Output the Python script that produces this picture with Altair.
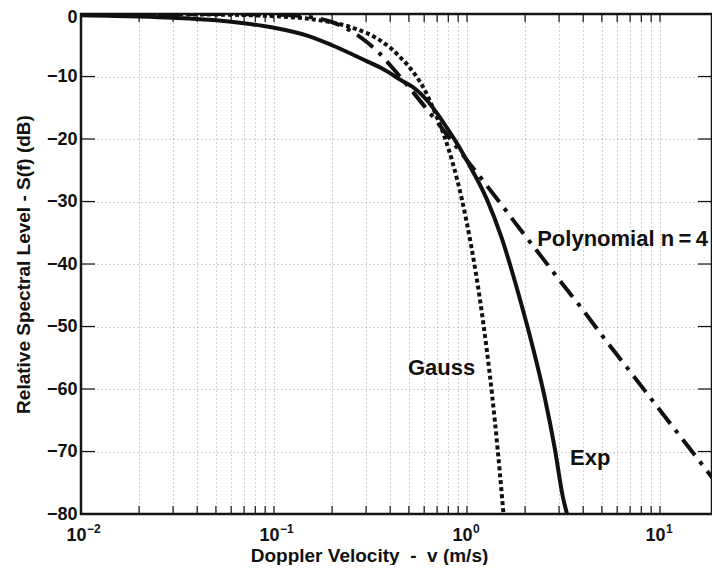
import altair as alt
import pandas as pd

# ---- data ----
exp_v = [0.01, 0.02, 0.03, 0.05, 0.075, 0.1, 0.15, 0.2, 0.3, 0.367, 0.45, 0.55, 0.62, 0.7, 0.79,
         0.9, 1.0, 1.27, 1.5, 1.88, 2.2, 2.53, 2.85, 3.14, 3.30]
exp_db = [-0.2, -0.4, -0.6, -1.0, -1.6, -2.2, -3.5, -5.0, -7.5, -8.8, -10.5, -12.2, -13.8, -15.9, -18.3,
          -21.0, -23.5, -29.7, -35.5, -45.6, -53.5, -61.4, -69.5, -77.3, -80.0]

gauss_v = [0.01, 0.05, 0.1, 0.15, 0.2, 0.25, 0.3, 0.35, 0.4, 0.45, 0.5, 0.55, 0.6, 0.67, 0.77,
           0.85, 0.94, 1.05, 1.17, 1.26, 1.35, 1.44, 1.52, 1.545]
gauss_db = [0.0, -0.1, -0.35, -0.75, -1.35, -2.1, -3.0, -4.1, -5.4, -6.9, -8.4, -10.1, -12.0, -15.2, -19.9,
            -24.2, -29.6, -37.0, -45.9, -53.2, -61.0, -69.5, -77.4, -80.0]

poly_v = [0.01, 0.05, 0.1, 0.15, 0.2, 0.25, 0.3, 0.35, 0.4, 0.5, 0.6, 0.7, 0.8, 1.0, 1.27,
          1.5, 1.88, 2.47, 3.0, 4.0, 5.0, 7.0, 10.0, 14.0, 20.0]
poly_db = [0.0, -0.01, -0.1, -0.45, -1.3, -2.7, -4.4, -6.2, -8.2, -11.7, -14.7, -17.3, -19.6, -23.4, -27.5,
           -30.4, -34.4, -39.1, -42.5, -47.4, -51.4, -57.2, -63.4, -69.2, -75.4]

x_grid = [0.01, 0.02, 0.03, 0.04, 0.05, 0.06, 0.07, 0.08, 0.09,
          0.1, 0.2, 0.3, 0.4, 0.5, 0.6, 0.7, 0.8, 0.9,
          1, 2, 3, 4, 5, 6, 7, 8, 9, 10]
x_decades = [0.01, 0.1, 1, 10]
x_exponents = ["\u22122", "\u22121", "0", "1"]
y_ticks = [-80, -70, -60, -50, -40, -30, -20, -10, 0]
y_inner = [-70, -60, -50, -40, -30, -20, -10]

labels_text = ["Polynomial n\u2009=\u20094", "Gauss", "Exp"]
labels_x = [2.31, 0.494, 3.42]
labels_y = [-37.1, -57.8, -72.2]

W, H = 631, 500
FONT = "Liberation Sans"

def frame(v, d):
    return pd.DataFrame({"x": v, "y": d})

x_enc = alt.X("x:Q",
              scale=alt.Scale(type="log", domain=[0.01, 18.6], nice=False),
              axis=alt.Axis(values=x_grid, grid=True, ticks=False, tickSize=0, domain=False,
                            labelExpr="indexof([0.01,0.1,1,10], datum.value) >= 0 ? '10' : ''",
                            labelOverlap=False, labelFlush=False,
                            labelBaseline="alphabetic", labelPadding=26, labelOffset=-5,
                            title="Doppler Velocity\u00a0 -\u00a0 v (m/s)",
                            titleX=288, titleY=47, titleBaseline="alphabetic", titleAlign="center"))
y_enc = alt.Y("y:Q",
              scale=alt.Scale(domain=[-80, 0], nice=False),
              axis=alt.Axis(values=y_ticks, grid=True, ticks=False, tickSize=0, domain=False,
                            labelPadding=4, labelFlush=False,
                            labelOffset={"condition": {"test": "datum.value == 0", "value": 3},
                                         "value": 0},
                            title="Relative Spectral Level - S(f) (dB)",
                            titleX=-58, titleY=250, titleAngle=270,
                            titleAlign="center", titleBaseline="middle"))

line_col = "#111111"
exp_line = alt.Chart(frame(exp_v, exp_db)).mark_line(
    color=line_col, strokeWidth=4, clip=True, interpolate="monotone").encode(x=x_enc, y=y_enc)
gauss_line = alt.Chart(frame(gauss_v, gauss_db)).mark_line(
    color=line_col, strokeWidth=4, strokeDash=[4, 3], strokeCap="butt", clip=True,
    interpolate="monotone").encode(x=x_enc, y=y_enc)
poly_line = alt.Chart(frame(poly_v, poly_db)).mark_line(
    color=line_col, strokeWidth=4, strokeDash=[20, 8, 4, 8], strokeCap="butt", clip=True,
    interpolate="monotone").encode(x=x_enc, y=y_enc)

ann = alt.Chart(pd.DataFrame({"x": labels_x, "y": labels_y, "t": labels_text})).mark_text(
    font=FONT, fontWeight="bold", fontSize=22, align="left", baseline="alphabetic",
    color=line_col).encode(x=x_enc, y=y_enc, text="t:N")

expo = alt.Chart(pd.DataFrame({"x": x_decades, "e": x_exponents})).mark_text(
    font=FONT, fontWeight="bold", fontSize=12, align="left", baseline="alphabetic",
    color=line_col, dx=6).encode(x=x_enc, y=alt.value(H + 19), text="e:N")

ydf = pd.DataFrame({"y": y_inner})
tick_left = alt.Chart(ydf).mark_rule(color=line_col, strokeWidth=1.2).encode(
    y=y_enc, x=alt.value(0), x2=alt.value(14))
tick_right = alt.Chart(ydf).mark_rule(color=line_col, strokeWidth=1.2).encode(
    y=y_enc, x=alt.value(W - 14), x2=alt.value(W))
xdf = pd.DataFrame({"x": x_grid[1:]})
tick_bottom = alt.Chart(xdf).mark_rule(color=line_col, strokeWidth=1.2).encode(
    x=x_enc, y=alt.value(H - 8), y2=alt.value(H))
tick_top = alt.Chart(xdf).mark_rule(color=line_col, strokeWidth=1.2).encode(
    x=x_enc, y=alt.value(0), y2=alt.value(8))

chart = alt.layer(
    tick_left, tick_right, tick_bottom, tick_top,
    gauss_line, poly_line, exp_line, ann, expo
).properties(
    width=W, height=H,
    autosize=alt.AutoSizeParams(type="none"),
    padding={"left": 73, "top": 6, "right": 0, "bottom": 51},
    background="white",
).configure_view(
    stroke="#111111", strokeWidth=2.5
).configure_axis(
    labelFont=FONT, labelFontWeight="bold", labelFontSize=18, labelColor="#111111",
    titleFont=FONT, titleFontWeight="bold", titleFontSize=19, titleColor="#111111",
    gridColor="#555555", gridDash=[1, 3], gridWidth=1, gridOpacity=0.55,
)

chart.save("out.html", embed_options={"renderer": "svg", "actions": False})
